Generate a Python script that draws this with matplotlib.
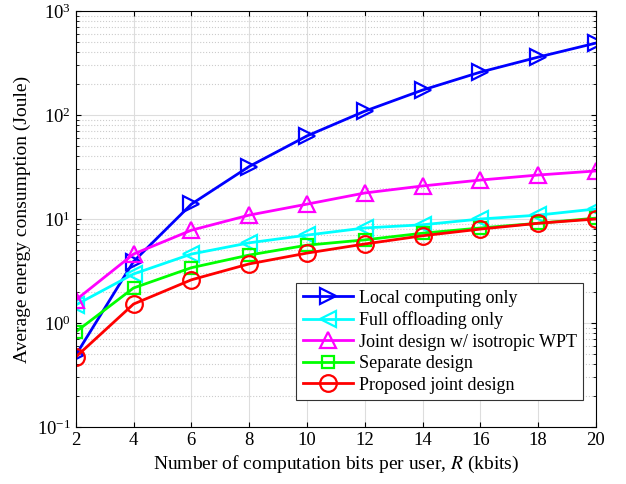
import matplotlib
matplotlib.use('Agg')
import matplotlib.pyplot as plt
from matplotlib.ticker import LogLocator, NullFormatter

plt.rcParams['font.family'] = ['Liberation Serif', 'DejaVu Serif']
plt.rcParams['mathtext.fontset'] = 'stix'

bits = [2, 4, 6, 8, 10, 12, 14, 16, 18, 20]
local_only = [0.49, 3.9, 13.9, 32, 63, 109, 174, 259, 361, 493]
full_offload = [1.49, 2.96, 4.6, 5.9, 7.0, 8.2, 8.8, 10.0, 10.9, 12.5]
joint_iso = [1.66, 4.6, 7.8, 10.9, 13.9, 17.8, 20.8, 23.7, 26.5, 29.0]
separate = [0.82, 2.17, 3.4, 4.5, 5.6, 6.3, 7.3, 8.2, 9.1, 10.2]
proposed = [0.47, 1.52, 2.6, 3.7, 4.7, 5.75, 6.9, 8.0, 9.1, 10.0]

series = [
    ('Local computing only', local_only, '#0000ff', '>'),
    ('Full offloading only', full_offload, '#00ffff', '<'),
    ('Joint design w/ isotropic WPT', joint_iso, '#ff00ff', '^'),
    ('Separate design', separate, '#00ff00', 's'),
    ('Proposed joint design', proposed, '#ff0000', 'o'),
]

fig = plt.figure(figsize=(6.26, 4.84), dpi=100)
ax = fig.add_axes([0.121, 0.118, 0.831, 0.859])

for label, vals, color, marker in series:
    ms = 9 if marker == 's' else 12
    ax.plot(bits, vals, color=color, marker=marker, markersize=ms,
            markerfacecolor='none', markeredgewidth=1.6, linewidth=2, label=label)

ax.set_yscale('log')
ax.set_xlim(2, 20)
ax.set_ylim(0.1, 1000)
ax.set_xticks(bits)
ax.yaxis.set_major_locator(LogLocator(base=10, numticks=10))
ax.yaxis.set_minor_locator(LogLocator(base=10, subs=range(2, 10), numticks=100))
ax.yaxis.set_minor_formatter(NullFormatter())

ax.grid(True, which='major', color='#dddddd', linestyle='-', linewidth=0.8)
ax.grid(True, which='minor', axis='y', color='#cccccc', linestyle=':', linewidth=0.8)
ax.set_axisbelow(True)
ax.tick_params(which='both', direction='in', top=True, right=True, labelsize=13.5)

ax.set_xlabel('Number of computation bits per user, $R$ (kbits)', fontsize=14)
ax.set_ylabel('Average energy consumption (Joule)', fontsize=14)

leg = ax.legend(loc='lower right', bbox_to_anchor=(0.975, 0.065), fontsize=13,
                fancybox=False, edgecolor='#333333', framealpha=1, borderaxespad=0,
                handlelength=2.8, borderpad=0.35, labelspacing=0.25, handletextpad=0.3)
leg.get_frame().set_linewidth(0.8)

fig.savefig('out.png', dpi=100)
